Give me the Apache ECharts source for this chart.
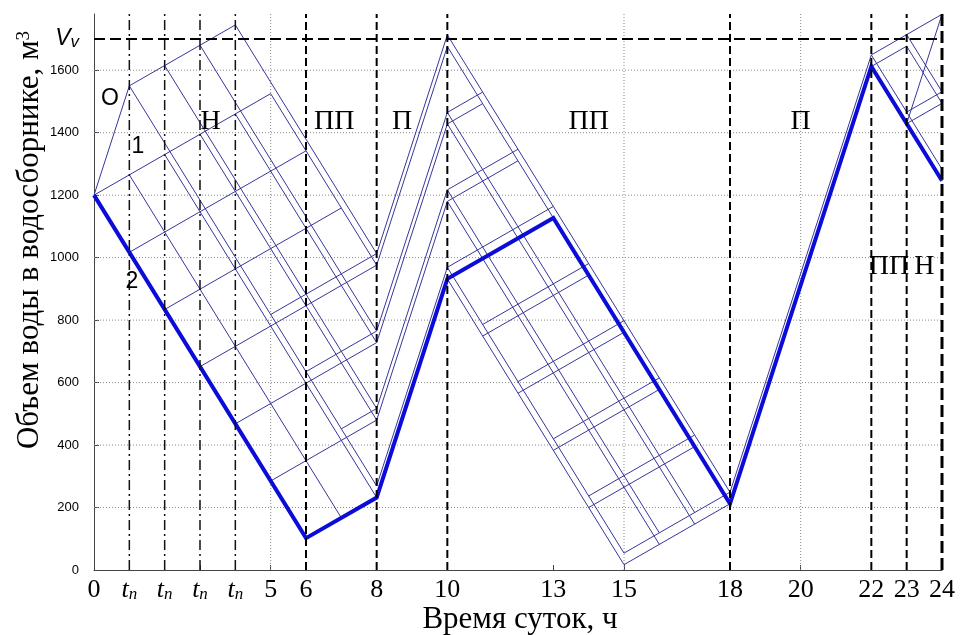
<!DOCTYPE html>
<html>
<head>
<meta charset="utf-8">
<script src="https://cdn.jsdelivr.net/npm/echarts@6/dist/echarts.min.js"></script>
<style>
  html, body { margin: 0; padding: 0; background: #fff; }
  #chart { width: 964px; height: 635px; }
</style>
</head>
<body>
<div id="chart"></div>
<script>
// Axis ticks and labels
const xTicks = [0, 1, 2, 3, 4, 5, 6, 8, 10, 13, 15, 18, 20, 22, 23, 24];
const xTickLabels = ['0', 'tn', 'tn', 'tn', 'tn', '5', '6', '8', '10', '13', '15', '18', '20', '22', '23', '24'];
const yTicks = [0, 200, 400, 600, 800, 1000, 1200, 1400, 1600];
const vMax = 1700;            // V_v, reservoir capacity
const yTop = 1780;            // upper end of the volume axis

// Reference lines
const modeBounds = [6, 8, 10, 18, 22, 23];
const dayEnd = 24;
const tnHours = [1, 2, 3, 4];
const gridX = [5, 15, 20];
const gridY = [200, 400, 600, 800, 1000, 1200, 1400, 1600];

// Chosen schedule (curve 2), hours / m3
const mainHours = [0, 6, 8, 10, 13, 18, 22, 24];
const mainVolume = [1200, 102, 232, 932, 1127, 212, 1612, 1246];

// Alternative schedules, 0–8 h: drawdown runs
const morningFalls = [
  [[1, 1265], [7, 167]],
  [[2, 1330], [8, 232]],
  [[3, 1395], [8, 480]],
  [[4, 1460], [8, 728]],
  [[5, 1525], [8, 976]],
  [[1, 1550], [8, 269]],
  [[2, 1615], [8, 517]],
  [[3, 1680], [8, 765]],
  [[4, 1745], [8, 1013]]
];
// 0–8 h: partial-pumping runs (curve О and curve 1 included)
const morningRises = [
  [[0, 1200], [1, 1550], [4, 1745]],
  [[0, 1200], [5, 1525]],
  [[1, 1017], [6, 1342]],
  [[2, 834], [7, 1159]],
  [[3, 651], [8, 976]],
  [[4, 468], [8, 728]],
  [[5, 285], [8, 480]],
  [[5, 818], [8, 1013]],
  [[6, 635], [8, 765]],
  [[7, 452], [8, 517]]
];
// 8–10 h: full pumping
const fillRuns = [
  [[8, 269], [10, 969]],
  [[8, 480], [10, 1180]],
  [[8, 517], [10, 1217]],
  [[8, 728], [10, 1428]],
  [[8, 765], [10, 1465]],
  [[8, 976], [10, 1676]],
  [[8, 1013], [10, 1713]]
];
// 10–18 h: drawdown runs
const dayFalls = [
  [[10, 1676], [18, 212]],
  [[10, 1428], [17, 147]],
  [[10, 1180], [16, 82]],
  [[10, 932], [15, 17]],
  [[10, 1713], [18, 249]],
  [[10, 1465], [17, 184]],
  [[10, 1217], [16, 119]],
  [[10, 969], [15, 54]]
];
// 10–18 h: partial-pumping runs
const dayRises = [
  [[10, 1428], [11, 1493]],
  [[10, 1180], [12, 1310]],
  [[11, 749], [14, 944]],
  [[12, 566], [15, 761]],
  [[13, 383], [16, 578]],
  [[14, 200], [17, 395]],
  [[15, 17], [18, 212]],
  [[10, 1465], [11, 1530]],
  [[10, 1217], [12, 1347]],
  [[10, 969], [13, 1164]],
  [[11, 786], [14, 981]],
  [[12, 603], [15, 798]],
  [[13, 420], [16, 615]],
  [[14, 237], [17, 432]],
  [[15, 54], [18, 249]]
];
// 18–24 h
const eveningRuns = [
  [[18, 249], [22, 1649]],
  [[22, 1649], [24, 1283]],
  [[22, 1612], [23, 1677], [24, 1494]],
  [[22, 1649], [24, 1779]],
  [[23, 1714], [24, 1531]],
  [[23, 1429], [24, 1494]],
  [[23, 1466], [24, 1531]],
  [[23, 1429], [24, 1779]]
];

// Text annotations
const modeNames = ['Н', 'ПП', 'П', 'ПП', 'П', 'ПП', 'Н'];
const modeX = [3.3, 6.8, 8.72, 14.0, 20.0, 22.5, 23.5];
const modeY = [1435, 1435, 1435, 1435, 1435, 970, 970];
const curveNames = ['О', '1', '2'];
const curveX = [0.45, 1.24, 1.07];
const curveY = [1510, 1354, 922];

const SERIF = '"Liberation Serif", "Times New Roman", serif';
const SANS = '"Liberation Sans", Arial, sans-serif';
const THIN = '#36369c';
const THICK = '#0c0cd8';

const series = [];
function addLine(points, lineStyle, z) {
  series.push({
    type: 'line', data: points, symbol: 'none', silent: true,
    animation: false, clip: false, z: z, lineStyle: lineStyle
  });
}

// dotted grid
gridY.forEach(y => addLine([[0, y], [dayEnd, y]], { color: '#8a8a8a', width: 1, type: [1, 2] }, 1));
gridX.forEach(x => addLine([[x, 0], [x, yTop]], { color: '#8a8a8a', width: 1, type: [1, 2] }, 1));

// alternative schedules
[morningFalls, morningRises, fillRuns, dayFalls, dayRises, eveningRuns].forEach(group =>
  group.forEach(p => addLine(p, { color: THIN, width: 1 }, 3)));

// chosen schedule
addLine(mainHours.map((h, i) => [h, mainVolume[i]]), { color: THICK, width: 4, join: 'miter' }, 5);

// mode switch moments, t_n moments and capacity level
modeBounds.forEach(x => addLine([[x, 0], [x, yTop]], { color: '#000', width: 2, type: [8, 4] }, 6));
addLine([[dayEnd, 0], [dayEnd, yTop]], { color: '#000', width: 3, type: [12, 5] }, 6);
tnHours.forEach(x => addLine([[x, 0], [x, yTop]], { color: '#111', width: 1.5, type: [10, 4, 2, 4] }, 6));
addLine([[0, vMax], [dayEnd, vMax]], { color: '#000', width: 2, type: [11, 5] }, 6);

// text labels
const plainLabel = { show: true, position: 'inside', formatter: p => p.name, color: '#000',
                     textBorderWidth: 0, textShadowBlur: 0, opacity: 1 };
series.push({
  type: 'scatter', silent: true, animation: false, z: 8,
  symbolSize: 1, itemStyle: { color: 'rgba(255,255,255,0)' },
  data: modeNames.map((n, i) => ({ value: [modeX[i], modeY[i]], name: n })),
  label: Object.assign({}, plainLabel, { fontFamily: SERIF, fontSize: 28 })
});
series.push({
  type: 'scatter', silent: true, animation: false, z: 8,
  symbolSize: 1, itemStyle: { color: 'rgba(255,255,255,0)' },
  data: curveNames.map((n, i) => ({ value: [curveX[i], curveY[i]], name: n })),
  label: Object.assign({}, plainLabel, { fontFamily: SANS, fontSize: 23 })
});

const chart = echarts.init(document.getElementById('chart'), null, { renderer: 'canvas' });
chart.setOption({
  backgroundColor: '#fff',
  animation: false,
  grid: { left: 94, right: 22, top: 14, bottom: 65, containLabel: false, outerBoundsMode: 'none' },
  xAxis: {
    type: 'value', min: 0, max: dayEnd,
    axisLine: { show: true, lineStyle: { color: '#444', width: 1 } },
    axisTick: { show: true, inside: true, length: 5, customValues: xTicks, lineStyle: { color: '#444' } },
    splitLine: { show: false },
    axisLabel: {
      customValues: xTicks, margin: 7, color: '#000',
      fontFamily: SERIF, fontSize: 26,
      formatter: v => {
        const s = xTickLabels[xTicks.indexOf(v)];
        return s === 'tn' ? '{t|t}{n|n}' : s;
      },
      rich: {
        t: { fontFamily: SERIF, fontStyle: 'italic', fontSize: 26, color: '#000' },
        n: { fontFamily: SERIF, fontStyle: 'italic', fontSize: 17, color: '#000', verticalAlign: 'bottom', lineHeight: 12 }
      }
    }
  },
  yAxis: {
    type: 'value', min: 0, max: yTop,
    axisLine: { show: true, lineStyle: { color: '#444', width: 1 } },
    axisTick: { show: true, inside: true, length: 5, customValues: yTicks, lineStyle: { color: '#444' } },
    splitLine: { show: false },
    axisLabel: {
      customValues: yTicks.concat([vMax]), margin: 15, color: '#000',
      fontFamily: SANS, fontSize: 13,
      formatter: v => v === vMax ? '{V|V}{v|v}' : String(v),
      rich: {
        V: { fontFamily: SANS, fontStyle: 'italic', fontSize: 23, color: '#000' },
        v: { fontFamily: SANS, fontStyle: 'italic', fontSize: 17, color: '#000', verticalAlign: 'bottom', lineHeight: 16 }
      }
    }
  },
  graphic: [
    {
      type: 'text', x: 520, y: 620, silent: true,
      style: { text: 'Время суток, ч', font: '31px ' + SERIF, fill: '#000',
               textAlign: 'center', textVerticalAlign: 'middle' }
    },
    {
      type: 'text', x: 30, y: 240, rotation: Math.PI / 2, silent: true,
      style: {
        text: '{a|Объем воды в водосборнике, м}{s|3}',
        textAlign: 'center', textVerticalAlign: 'middle', fill: '#000',
        rich: {
          a: { font: '31px ' + SERIF, fill: '#000' },
          s: { font: '19px ' + SERIF, fill: '#000', verticalAlign: 'top' }
        }
      }
    }
  ],
  series: series
});
</script>
</body>
</html>
